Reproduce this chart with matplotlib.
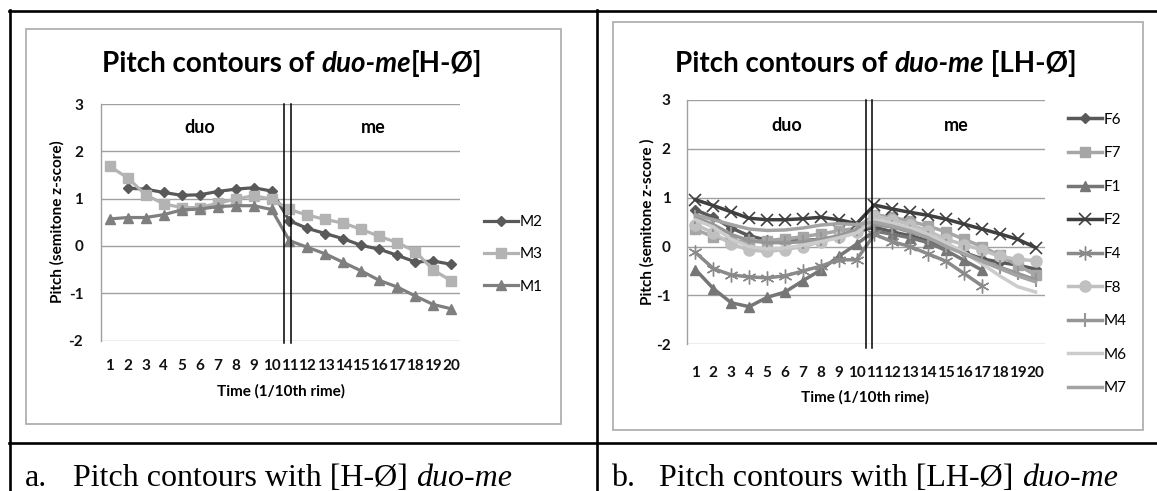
import numpy as np
import matplotlib
matplotlib.use('Agg')
import matplotlib.pyplot as plt
from matplotlib.lines import Line2D
from matplotlib.patches import Rectangle

plt.rcParams['axes.unicode_minus'] = False
nan = np.nan

# time points (1/10th rime)
time_ticks = list(range(1, 21))

# panel a: [H-Ø] duo-me
m2 = [nan, 1.22, 1.20, 1.13, 1.07, 1.08, 1.15, 1.20, 1.23, 1.16,
      0.53, 0.37, 0.26, 0.15, 0.01, -0.07, -0.20, -0.34, -0.32, -0.39]
m3 = [1.68, 1.44, 1.08, 0.89, 0.81, 0.81, 0.90, 0.99, 1.06, 0.99,
      0.77, 0.65, 0.56, 0.48, 0.35, 0.20, 0.07, -0.12, -0.51, -0.74]
m1 = [0.57, 0.60, 0.60, 0.66, 0.76, 0.78, 0.83, 0.85, 0.85, 0.77,
      0.11, -0.03, -0.17, -0.35, -0.53, -0.73, -0.87, -1.06, -1.24, -1.33]

# panel b: [LH-Ø] duo-me
f6 = [0.75, 0.60, 0.38, 0.22, 0.13, 0.11, 0.12, 0.15, 0.18, 0.30,
      0.40, 0.30, 0.22, 0.12, 0.00, -0.12, -0.25, -0.32, -0.38, -0.46]
f7 = [0.35, 0.20, 0.12, 0.10, 0.12, 0.16, 0.20, 0.26, 0.32, 0.38,
      0.65, 0.60, 0.52, 0.42, 0.30, 0.15, 0.00, -0.18, -0.38, -0.58]
f1 = [-0.47, -0.86, -1.15, -1.23, -1.04, -0.93, -0.70, -0.48, -0.20, 0.05,
      0.32, 0.25, 0.18, 0.08, -0.08, -0.28, -0.48, nan, nan, nan]
f2 = [0.96, 0.84, 0.71, 0.58, 0.55, 0.55, 0.57, 0.60, 0.55, 0.47,
      0.85, 0.77, 0.70, 0.64, 0.56, 0.46, 0.36, 0.26, 0.15, -0.02]
f4 = [-0.12, -0.45, -0.58, -0.62, -0.64, -0.60, -0.50, -0.40, -0.27, -0.27,
      0.25, 0.10, 0.00, -0.15, -0.30, -0.55, -0.80, nan, nan, nan]
f8 = [0.45, 0.28, 0.05, -0.07, -0.10, -0.06, 0.00, 0.10, 0.20, 0.30,
      0.62, 0.55, 0.45, 0.32, 0.15, 0.04, -0.07, -0.20, -0.26, -0.29]
m4 = [0.60, 0.45, 0.25, 0.12, 0.08, 0.08, 0.10, 0.15, 0.22, 0.35,
      0.45, 0.40, 0.30, 0.18, 0.02, -0.12, -0.28, -0.42, -0.55, -0.68]
m6 = [0.55, 0.40, 0.15, 0.00, -0.05, -0.03, 0.03, 0.10, 0.18, 0.28,
      0.55, 0.48, 0.38, 0.25, 0.08, -0.12, -0.35, -0.60, -0.82, -0.93]
m7 = [0.65, 0.55, 0.45, 0.36, 0.33, 0.34, 0.38, 0.44, 0.47, 0.45,
      0.50, 0.42, 0.32, 0.18, 0.00, -0.15, -0.30, -0.45, -0.60, -0.72]

W, H = 1157, 491
GRID = '#a0a0a0'
FONT = 'Lato'
SERIF = 'Liberation Serif'

fig = plt.figure(figsize=(W / 100, H / 100), dpi=100)
renderer = fig.canvas.get_renderer()


def fx(x):
    return x / W


def fy(y):
    return 1 - y / H


def px_rect(l, t, r, b):
    return [l / W, 1 - b / H, (r - l) / W, (b - t) / H]


def text_width(s, **kw):
    # width in px, trailing spaces included
    t = fig.text(0, 0, s + '|', **kw)
    w1 = t.get_window_extent(renderer).width
    t.remove()
    t = fig.text(0, 0, '|', **kw)
    w2 = t.get_window_extent(renderer).width
    t.remove()
    return w1 - w2


def rich(parts, x, y, ha='center', **kw):
    widths = [text_width(s, style=st, **kw) for s, st in parts]
    x0 = x - sum(widths) / 2 if ha == 'center' else x
    for (s, st), w in zip(parts, widths):
        fig.text(fx(x0), fy(y), s, style=st, va='baseline', ha='left', **kw)
        x0 += w


def setup(ax, xpad, ypad):
    ax.set_xlim(0.5, 20.5)
    ax.set_ylim(-2, 3)
    ax.set_xticks(time_ticks)
    ax.set_yticks([-2, -1, 0, 1, 2, 3])
    ax.grid(axis='y', color=GRID, lw=1.0)
    ax.set_axisbelow(True)
    for s in ['top', 'right', 'bottom']:
        ax.spines[s].set_visible(False)
    ax.spines['left'].set_color(GRID)
    ax.spines['left'].set_linewidth(1.0)
    ax.tick_params(axis='x', length=0, pad=xpad)
    ax.tick_params(axis='y', length=0, pad=ypad)
    for lab in ax.get_xticklabels() + ax.get_yticklabels():
        lab.set_fontfamily(FONT)
        lab.set_fontweight('bold')
        lab.set_fontsize(11)
        lab.set_color('#111111')
    ax.patch.set_alpha(0)


# ---------- panel a ----------
axa = fig.add_axes(px_rect(100.7, 104, 460.3, 340.5))
setup(axa, 13.5, 12.5)
la = []
la += axa.plot(time_ticks, m2, color='#595959', lw=2.3, marker='D', ms=5, label='M2')
la += axa.plot(time_ticks, m3, color='#b3b3b3', lw=2.3, marker='s', ms=7, label='M3')
la += axa.plot(time_ticks, m1, color='#7f7f7f', lw=2.3, marker='^', ms=7, label='M1')
for xv in [10.68, 11.06]:
    axa.axvline(xv, ymin=-0.01, ymax=1, color='black', lw=1.1, clip_on=False)
axa.text(6.0, 2.5, 'duo', ha='center', va='center', fontsize=13, fontweight='bold', family=FONT)
axa.text(15.67, 2.5, 'me', ha='center', va='center', fontsize=13, fontweight='bold', family=FONT)
fig.legend(handles=la, loc='center left', bbox_to_anchor=(fx(484), fy(254.5)),
           frameon=False, borderpad=0, borderaxespad=0, handlelength=2.2,
           handletextpad=0.1, labelspacing=1.18, prop={'family': FONT, 'size': 11})
fig.text(fx(57), fy(222), 'Pitch (semitone z-score)', rotation=90, ha='center', va='center',
         family=FONT, fontweight='bold', fontsize=11)
fig.text(fx(281), fy(391.5), 'Time (1/10th rime)', ha='center', va='center',
         family=FONT, fontweight='bold', fontsize=11)
rich([('Pitch contours of ', 'normal'), ('duo-me', 'italic'), ('[H-Ø]', 'normal')],
     292, 72, family=FONT, fontweight='bold', fontsize=20)

# ---------- panel b ----------
axb = fig.add_axes(px_rect(686.5, 100, 1044.5, 344.3))
setup(axb, 15.5, 11.5)
styles_b = [
    ('F6', f6, '#595959', 'D', 5, 1.0),
    ('F7', f7, '#a6a6a6', 's', 7, 1.0),
    ('F1', f1, '#767676', '^', 7, 1.0),
    ('F2', f2, '#3f3f3f', 'x', 8, 1.2),
    ('F4', f4, '#8a8a8a', (6, 2, 0), 10, 1.0),
    ('F8', f8, '#c0c0c0', 'o', 8, 1.0),
    ('M4', m4, '#969696', '|', 10, 1.5),
    ('M6', m6, '#cccccc', 'None', 0, 1.0),
    ('M7', m7, '#a3a3a3', 'None', 0, 1.0),
]
lb = []
for name, vals, col, mk, ms, mew in styles_b:
    lb += axb.plot(time_ticks, vals, color=col, lw=2.5, marker=mk, ms=ms, mew=mew, label=name)
for xv in [10.5, 10.88]:
    axb.axvline(xv, ymin=-0.015, ymax=1, color='black', lw=1.1, clip_on=False)
axb.text(6.08, 2.47, 'duo', ha='center', va='center', fontsize=13, fontweight='bold', family=FONT)
axb.text(15.56, 2.47, 'me', ha='center', va='center', fontsize=13, fontweight='bold', family=FONT)
fig.legend(handles=lb, loc='center left', bbox_to_anchor=(fx(1068), fy(254)),
           frameon=False, borderpad=0, borderaxespad=0, handlelength=2.2,
           handletextpad=0.1, labelspacing=1.28, prop={'family': FONT, 'size': 11})
fig.text(fx(647), fy(222), 'Pitch (semitone z-score )', rotation=90, ha='center', va='center',
         family=FONT, fontweight='bold', fontsize=11)
fig.text(fx(865), fy(397), 'Time (1/10th rime)', ha='center', va='center',
         family=FONT, fontweight='bold', fontsize=11)
rich([('Pitch contours of ', 'normal'), ('duo-me', 'italic'), (' [LH-Ø]', 'normal')],
     876, 72, family=FONT, fontweight='bold', fontsize=20)

# ---------- chart frames and table ----------
for l, t, r, b in [(26, 29.3, 561, 424.3), (612.7, 22.3, 1143, 430)]:
    fig.add_artist(Rectangle((fx(l), fy(b)), (r - l) / W, (b - t) / H, transform=fig.transFigure,
                             fill=False, edgecolor='#b0b0b0', lw=1.3))
tbl = dict(color='black', lw=1.9, transform=fig.transFigure)
fig.add_artist(Line2D([fx(9), 1], [fy(10.5), fy(10.5)], **tbl))
fig.add_artist(Line2D([fx(9), 1], [fy(443), fy(443)], **tbl))
fig.add_artist(Line2D([fx(10), fx(10)], [fy(9.5), 0], **tbl))
fig.add_artist(Line2D([fx(596.7), fx(596.7)], [fy(9.5), 0], **tbl))

# captions
fig.text(fx(25), fy(486), 'a.', family=SERIF, fontsize=23, va='baseline')
rich([('Pitch contours with [H-Ø] ', 'normal'), ('duo-me', 'italic')], 72.7, 486, ha='left',
     family=SERIF, fontsize=23)
fig.text(fx(611), fy(486), 'b.', family=SERIF, fontsize=23, va='baseline')
rich([('Pitch contours with [LH-Ø] ', 'normal'), ('duo-me', 'italic')], 659.4, 486, ha='left',
     family=SERIF, fontsize=23)

fig.savefig('out.png', dpi=100, facecolor='white')
